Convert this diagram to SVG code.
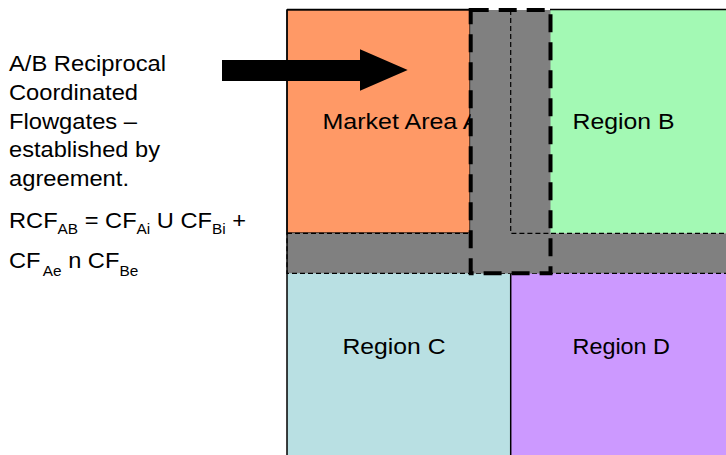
<svg xmlns="http://www.w3.org/2000/svg" width="726" height="455" viewBox="0 0 726 455">
  <style>
    text { font-family: "Liberation Sans", Arial, sans-serif; fill: #000; }
    .lbl { font-size: 21.5px; }
    .main { font-size: 21.5px; }
    .sub { font-size: 14px; }
    .frame { stroke: #000; stroke-width: 1.5; fill: none; }
    .thin { stroke: #000; stroke-width: 1.2; stroke-dasharray: 5 3; }
    .thick { stroke: #000; stroke-width: 4; stroke-dasharray: 18 10; fill: none; }
    .gray { fill: #808080; }
  </style>
  <rect width="726" height="455" fill="#fff"/>

  <g id="market-area-a">
    <rect x="287" y="10" width="183" height="223" fill="#FF9966" stroke="#000" stroke-width="1.2"/>
    <text class="lbl" x="322.5" y="129" textLength="157" lengthAdjust="spacingAndGlyphs">Market Area A</text>
  </g>
  <g id="region-b">
    <rect x="510.5" y="10" width="220" height="223" fill="#A3F9B4"/>
    <text class="lbl" x="572.5" y="129" textLength="102" lengthAdjust="spacingAndGlyphs">Region B</text>
  </g>
  <g id="region-c">
    <rect x="287" y="273" width="224" height="190" fill="#B9E0E3"/>
    <text class="lbl" x="342.5" y="354" textLength="103" lengthAdjust="spacingAndGlyphs">Region C</text>
  </g>
  <g id="region-d">
    <rect x="511" y="273" width="220" height="190" fill="#CC99FF"/>
    <text class="lbl" x="572.5" y="354" textLength="97.5" lengthAdjust="spacingAndGlyphs">Region D</text>
  </g>

  <g id="flowgate-bands">
    <rect class="gray thin" x="287" y="233.3" width="445" height="40"/>
    <rect class="gray" x="470.7" y="10" width="79.8" height="263.3"/>
    <path class="thin" fill="none" d="M510.7 10 V233.3 H550.5"/>
    <rect class="thick" x="470.7" y="10" width="79.8" height="263.3"/>
  </g>

  <g id="frame">
    <line class="frame" x1="287" y1="9.5" x2="287" y2="455"/>
    <line class="frame" x1="287" y1="9.5" x2="470" y2="9.5"/>
    <line class="frame" x1="550" y1="9.5" x2="726" y2="9.5"/>
    <line class="frame" x1="510.7" y1="274" x2="510.7" y2="455"/>
  </g>

  <g id="note">
    <text class="main" x="9" y="71" textLength="157" lengthAdjust="spacingAndGlyphs">A/B Reciprocal</text>
    <text class="main" x="9" y="100" textLength="129" lengthAdjust="spacingAndGlyphs">Coordinated</text>
    <text class="main" x="9" y="128.5" textLength="128" lengthAdjust="spacingAndGlyphs">Flowgates –</text>
    <text class="main" x="9" y="157" textLength="151" lengthAdjust="spacingAndGlyphs">established by</text>
    <text class="main" x="9" y="186" textLength="120" lengthAdjust="spacingAndGlyphs">agreement.</text>
  </g>

  <g id="formula" transform="scale(1.1,1)">
    <text class="main" x="8.2" y="227.7">RCF<tspan class="sub" dy="6.8">AB</tspan><tspan dy="-6.8"> = CF</tspan><tspan class="sub" dy="6.8">Ai</tspan><tspan dy="-6.8"> U CF</tspan><tspan class="sub" dy="6.8">Bi</tspan><tspan dy="-6.8"> +</tspan></text>
    <text class="main" x="8.2" y="268.3">CF<tspan class="sub" dx="2" dy="7.7">Ae</tspan><tspan dy="-7.7"> n CF</tspan><tspan class="sub" dy="7.7">Be</tspan></text>
  </g>

  <g id="connectors">
    <polygon points="222,60 360,60 360,49.3 407.7,70 360,90.7 360,81 222,81" fill="#000"/>
  </g>
</svg>
